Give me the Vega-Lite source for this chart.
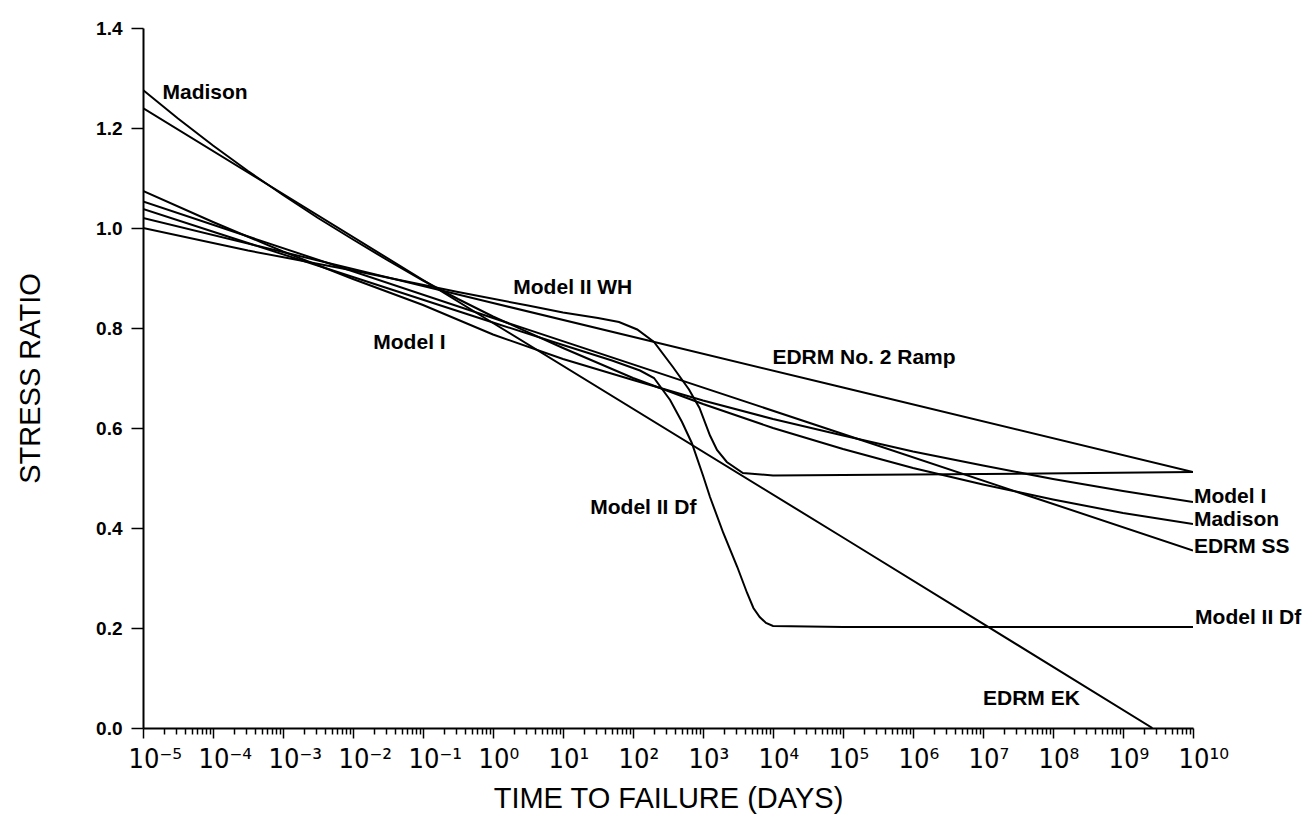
{
  "$schema": "https://vega.github.io/schema/vega-lite/v6.json",
  "width": 1050,
  "height": 700,
  "autosize": {"type": "none"},
  "padding": {"left": 143, "top": 28, "right": 119, "bottom": 94},
  "background": "white",
  "config": {"view": {"stroke": null}, "font": "Liberation Sans"},
  "datasets": {
    "curves": [
      {"series": "Madison", "t": 1e-5, "s": 1.276},
      {"series": "Madison", "t": 3.162e-5, "s": 1.219},
      {"series": "Madison", "t": 1e-4, "s": 1.165},
      {"series": "Madison", "t": 3.162e-4, "s": 1.114},
      {"series": "Madison", "t": 1e-3, "s": 1.066},
      {"series": "Madison", "t": 3.162e-3, "s": 1.02},
      {"series": "Madison", "t": 1e-2, "s": 0.977},
      {"series": "Madison", "t": 3.162e-2, "s": 0.935},
      {"series": "Madison", "t": 0.1, "s": 0.895},
      {"series": "Madison", "t": 0.3162, "s": 0.858},
      {"series": "Madison", "t": 1, "s": 0.823},
      {"series": "Madison", "t": 10, "s": 0.76},
      {"series": "Madison", "t": 100, "s": 0.70},
      {"series": "Madison", "t": 1e3, "s": 0.648},
      {"series": "Madison", "t": 1e4, "s": 0.60},
      {"series": "Madison", "t": 1e5, "s": 0.558},
      {"series": "Madison", "t": 1e6, "s": 0.52},
      {"series": "Madison", "t": 1e7, "s": 0.487},
      {"series": "Madison", "t": 1e8, "s": 0.457},
      {"series": "Madison", "t": 1e9, "s": 0.43},
      {"series": "Madison", "t": 1e10, "s": 0.408},

      {"series": "EDRM EK", "t": 1e-5, "s": 1.24},
      {"series": "EDRM EK", "t": 1, "s": 0.81},
      {"series": "EDRM EK", "t": 1e5, "s": 0.381},
      {"series": "EDRM EK", "t": 2.63e9, "s": 0.0},

      {"series": "EDRM No. 2 Ramp", "t": 1e-5, "s": 1.02},
      {"series": "EDRM No. 2 Ramp", "t": 1, "s": 0.85},
      {"series": "EDRM No. 2 Ramp", "t": 1e5, "s": 0.681},
      {"series": "EDRM No. 2 Ramp", "t": 1e10, "s": 0.512},

      {"series": "Model II WH", "t": 1e-5, "s": 1.0},
      {"series": "Model II WH", "t": 3.162e-4, "s": 0.955},
      {"series": "Model II WH", "t": 1e-2, "s": 0.915},
      {"series": "Model II WH", "t": 0.3162, "s": 0.872},
      {"series": "Model II WH", "t": 3.162, "s": 0.845},
      {"series": "Model II WH", "t": 10, "s": 0.831},
      {"series": "Model II WH", "t": 31.62, "s": 0.82},
      {"series": "Model II WH", "t": 63.1, "s": 0.812},
      {"series": "Model II WH", "t": 114.8, "s": 0.797},
      {"series": "Model II WH", "t": 199.5, "s": 0.772},
      {"series": "Model II WH", "t": 371.5, "s": 0.722},
      {"series": "Model II WH", "t": 631, "s": 0.677},
      {"series": "Model II WH", "t": 891, "s": 0.64},
      {"series": "Model II WH", "t": 1259, "s": 0.585},
      {"series": "Model II WH", "t": 1585, "s": 0.556},
      {"series": "Model II WH", "t": 2188, "s": 0.532},
      {"series": "Model II WH", "t": 3715, "s": 0.51},
      {"series": "Model II WH", "t": 1e4, "s": 0.505},
      {"series": "Model II WH", "t": 1e7, "s": 0.508},
      {"series": "Model II WH", "t": 1e10, "s": 0.512},

      {"series": "Model I", "t": 1e-5, "s": 1.074},
      {"series": "Model I", "t": 1e-4, "s": 1.012},
      {"series": "Model I", "t": 1e-3, "s": 0.953},
      {"series": "Model I", "t": 1e-2, "s": 0.898},
      {"series": "Model I", "t": 0.1, "s": 0.846},
      {"series": "Model I", "t": 1, "s": 0.787},
      {"series": "Model I", "t": 10, "s": 0.738},
      {"series": "Model I", "t": 100, "s": 0.696},
      {"series": "Model I", "t": 1e3, "s": 0.655},
      {"series": "Model I", "t": 1e4, "s": 0.618},
      {"series": "Model I", "t": 1e5, "s": 0.585},
      {"series": "Model I", "t": 1e6, "s": 0.553},
      {"series": "Model I", "t": 1e7, "s": 0.525},
      {"series": "Model I", "t": 1e8, "s": 0.498},
      {"series": "Model I", "t": 1e9, "s": 0.474},
      {"series": "Model I", "t": 1e10, "s": 0.452},

      {"series": "EDRM SS", "t": 1e-5, "s": 1.053},
      {"series": "EDRM SS", "t": 1, "s": 0.82},
      {"series": "EDRM SS", "t": 1e5, "s": 0.588},
      {"series": "EDRM SS", "t": 1e10, "s": 0.355},

      {"series": "Model II Df", "t": 1e-5, "s": 1.038},
      {"series": "Model II Df", "t": 1e-2, "s": 0.902},
      {"series": "Model II Df", "t": 1, "s": 0.811},
      {"series": "Model II Df", "t": 10, "s": 0.766},
      {"series": "Model II Df", "t": 50.1, "s": 0.735},
      {"series": "Model II Df", "t": 125.9, "s": 0.715},
      {"series": "Model II Df", "t": 199.5, "s": 0.70},
      {"series": "Model II Df", "t": 338.8, "s": 0.656},
      {"series": "Model II Df", "t": 501.2, "s": 0.612},
      {"series": "Model II Df", "t": 691.8, "s": 0.57},
      {"series": "Model II Df", "t": 1000, "s": 0.505},
      {"series": "Model II Df", "t": 1259, "s": 0.462},
      {"series": "Model II Df", "t": 1950, "s": 0.39},
      {"series": "Model II Df", "t": 3090, "s": 0.322},
      {"series": "Model II Df", "t": 4266, "s": 0.27},
      {"series": "Model II Df", "t": 5248, "s": 0.24},
      {"series": "Model II Df", "t": 6457, "s": 0.222},
      {"series": "Model II Df", "t": 7943, "s": 0.21},
      {"series": "Model II Df", "t": 1e4, "s": 0.204},
      {"series": "Model II Df", "t": 1e5, "s": 0.202},
      {"series": "Model II Df", "t": 1e10, "s": 0.202}
    ],
    "labels": [
      {"label": "Madison", "t": 1.9e-5, "s": 1.27},
      {"label": "Model II WH", "t": 1.95, "s": 0.88},
      {"label": "Model I", "t": 0.0195, "s": 0.77},
      {"label": "EDRM No. 2 Ramp", "t": 9800, "s": 0.74},
      {"label": "Model II Df", "t": 24.5, "s": 0.44},
      {"label": "EDRM EK", "t": 1e7, "s": 0.058},
      {"label": "Model I", "t": 1.03e10, "s": 0.462},
      {"label": "Madison", "t": 1.03e10, "s": 0.416},
      {"label": "EDRM SS", "t": 1.03e10, "s": 0.362},
      {"label": "Model II Df", "t": 1.07e10, "s": 0.22}
    ]
  },
  "layer": [
    {
      "data": {"name": "curves"},
      "mark": {"type": "line", "color": "black", "strokeWidth": 2, "clip": true},
      "encoding": {
        "x": {
          "field": "t",
          "type": "quantitative",
          "scale": {"type": "log", "domain": [1e-5, 1e10]},
          "axis": {
            "title": "TIME TO FAILURE (DAYS)",
            "values": [1e-5,2e-5,3e-5,4e-5,5e-5,6e-5,7e-5,8e-5,9e-5,
                       1e-4,2e-4,3e-4,4e-4,5e-4,6e-4,7e-4,8e-4,9e-4,
                       1e-3,2e-3,3e-3,4e-3,5e-3,6e-3,7e-3,8e-3,9e-3,
                       1e-2,2e-2,3e-2,4e-2,5e-2,6e-2,7e-2,8e-2,9e-2,
                       0.1,0.2,0.3,0.4,0.5,0.6,0.7,0.8,0.9,
                       1,2,3,4,5,6,7,8,9,
                       10,20,30,40,50,60,70,80,90,
                       100,200,300,400,500,600,700,800,900,
                       1e3,2e3,3e3,4e3,5e3,6e3,7e3,8e3,9e3,
                       1e4,2e4,3e4,4e4,5e4,6e4,7e4,8e4,9e4,
                       1e5,2e5,3e5,4e5,5e5,6e5,7e5,8e5,9e5,
                       1e6,2e6,3e6,4e6,5e6,6e6,7e6,8e6,9e6,
                       1e7,2e7,3e7,4e7,5e7,6e7,7e7,8e7,9e7,
                       1e8,2e8,3e8,4e8,5e8,6e8,7e8,8e8,9e8,
                       1e9,2e9,3e9,4e9,5e9,6e9,7e9,8e9,9e9,
                       1e10],
            "labelExpr": "abs(log(datum.value)/LN10 - round(log(datum.value)/LN10)) < 1e-6 ? ['10⁻⁵','10⁻⁴','10⁻³','10⁻²','10⁻¹','10⁰','10¹','10²','10³','10⁴','10⁵','10⁶','10⁷','10⁸','10⁹','10¹⁰'][round(log(datum.value)/LN10)+5] : ''",
            "tickSize": {"condition": {"test": "abs(log(datum.value)/LN10 - round(log(datum.value)/LN10)) < 1e-6", "value": 10}, "value": 6},
            "tickColor": "black",
            "tickWidth": 1.5,
            "domainColor": "black",
            "domainWidth": 2,
            "grid": false,
            "labelFont": "DejaVu Sans Condensed, Liberation Sans",
            "labelFontSize": 27,
            "labelColor": "black",
            "labelAlign": "left",
            "labelOffset": -15,
            "labelPadding": 8,
            "labelOverlap": false,
            "labelBound": false,
            "labelFlush": false,
            "titleFont": "Liberation Sans",
            "titleFontSize": 29,
            "titleFontWeight": "normal",
            "titleColor": "black",
            "titlePadding": 12
          }
        },
        "y": {
          "field": "s",
          "type": "quantitative",
          "scale": {"domain": [0, 1.4]},
          "axis": {
            "title": "STRESS RATIO",
            "values": [0, 0.2, 0.4, 0.6, 0.8, 1.0, 1.2, 1.4],
            "format": ".1f",
            "tickSize": 12,
            "tickColor": "black",
            "tickWidth": 1.5,
            "domainColor": "black",
            "domainWidth": 2,
            "grid": false,
            "labelFont": "Liberation Sans",
            "labelFontSize": 19,
            "labelFontWeight": "bold",
            "labelColor": "black",
            "labelPadding": 9,
            "titleFont": "Liberation Sans",
            "titleFontSize": 29,
            "titleFontWeight": "normal",
            "titleColor": "black",
            "titlePadding": 50
          }
        },
        "detail": {"field": "series"}
      }
    },
    {
      "data": {"name": "labels"},
      "mark": {"type": "text", "align": "left", "baseline": "middle", "font": "Liberation Sans", "fontSize": 21, "fontWeight": "bold", "color": "black"},
      "encoding": {
        "x": {"field": "t", "type": "quantitative", "scale": {"type": "log", "domain": [1e-5, 1e10]}},
        "y": {"field": "s", "type": "quantitative", "scale": {"domain": [0, 1.4]}},
        "text": {"field": "label"}
      }
    }
  ]
}
